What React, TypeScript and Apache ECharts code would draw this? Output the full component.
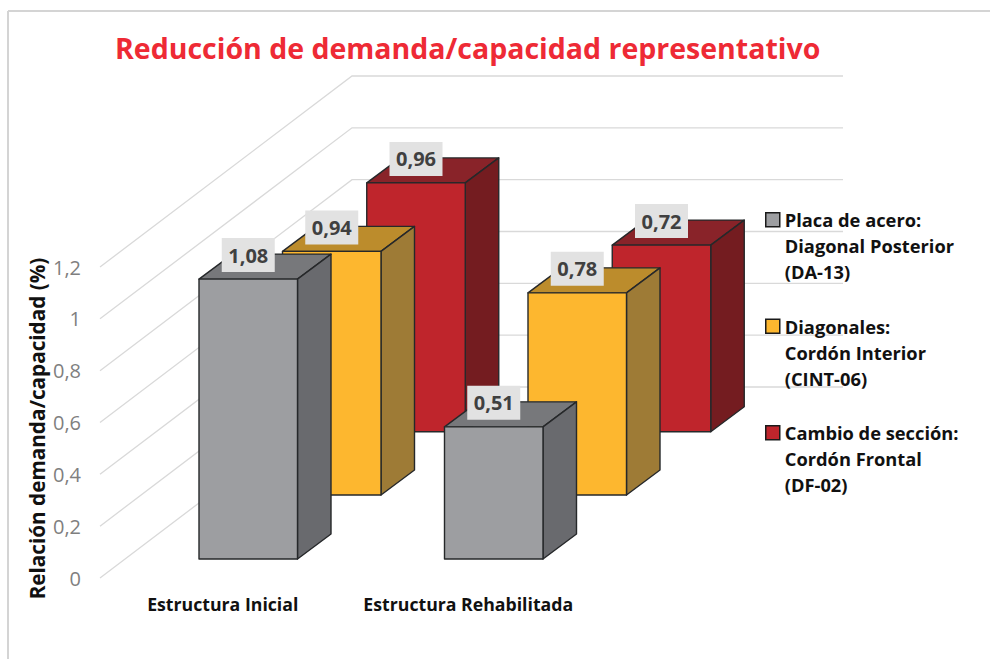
import React, { useEffect, useRef } from "react";
import * as echarts from "echarts";

const categories = ["Estructura Inicial", "Estructura Rehabilitada"];
const titleText = "Reducción de demanda/capacidad representativo";
const yAxisTitle = "Relación demanda/capacidad (%)";
const seriesNames = [
  "Placa de acero:\nDiagonal Posterior\n(DA-13)",
  "Diagonales:\nCordón Interior\n(CINT-06)",
  "Cambio de sección:\nCordón Frontal\n(DF-02)",
];
const placaValues = [1.08, 0.51];
const diagonalesValues = [0.94, 0.78];
const cambioValues = [0.96, 0.72];
const gridTicks = [0, 0.2, 0.4, 0.6, 0.8, 1, 1.2];

const FONT = "'Open Sans', sans-serif";
const WALL_DX = 252;
const WALL_DY = -191;
const BAR_W = 98.5;
const SIDE_DX = 33.5;
const SIDE_DY = -25;
const LEGEND_ICON = "path://M0 6H14V20H0Z M0 0L0 0 M14 78L14 78";

const comma = (v: number) => String(v).replace(".", ",");

type Palette = { front: string; top: string; side: string };
const gray: Palette = { front: "#9D9EA1", top: "#77787B", side: "#696A6E" };
const amber: Palette = { front: "#FDB72F", top: "#BC8C2C", side: "#9E7B36" };
const red: Palette = { front: "#BF252C", top: "#892329", side: "#741C20" };

function barSeries(name: string, values: number[], p: Palette, dx: number, dy: number) {
  return {
    type: "custom",
    name,
    coordinateSystem: "cartesian2d",
    itemStyle: { color: p.front },
    data: values.map((v, i) => [i, v]),
    encode: { x: 0, y: 1 },
    renderItem: (_: any, api: any) => {
      const cat = api.value(0);
      const val = api.value(1);
      const base = api.coord([cat, 0]);
      const head = api.coord([cat, val]);
      const cx = base[0] + dx;
      const l = cx - BAR_W / 2;
      const r = cx + BAR_W / 2;
      const b = base[1] + dy;
      const t = head[1] + dy;
      const edge = { stroke: "#26282A", lineWidth: 1.4, lineJoin: "round" };
      return {
        type: "group",
        children: [
          {
            type: "polygon",
            shape: { points: [[l, t], [r, t], [r + SIDE_DX, t + SIDE_DY], [l + SIDE_DX, t + SIDE_DY]] },
            style: { fill: p.top, ...edge },
          },
          {
            type: "polygon",
            shape: { points: [[r, t], [r + SIDE_DX, t + SIDE_DY], [r + SIDE_DX, b + SIDE_DY], [r, b]] },
            style: { fill: p.side, ...edge },
          },
          {
            type: "rect",
            shape: { x: l, y: t, width: BAR_W, height: b - t },
            style: { fill: p.front, ...edge },
          },
          {
            type: "rect",
            shape: { x: cx - 26.5, y: t - 41, width: 53, height: 34 },
            style: { fill: "#E2E2E2" },
          },
          {
            type: "text",
            x: cx,
            y: t - 24,
            style: {
              text: comma(val),
              align: "center",
              verticalAlign: "middle",
              fill: "#404040",
              font: `bold 20px ${FONT}`,
            },
          },
        ],
      };
    },
  };
}

export default function App() {
  const ref = useRef<HTMLDivElement>(null);

  useEffect(() => {
    if (!ref.current) return;
    const chart = echarts.init(ref.current, undefined, { renderer: "svg" });
    chart.setOption({
      animation: false,
      backgroundColor: "#FFFFFF",
      title: {
        text: titleText,
        left: 115,
        top: 28,
        textStyle: { color: "#EE2A35", fontFamily: FONT, fontWeight: "bold", fontSize: 28.5, lineHeight: 40 },
        padding: 0,
      },
      grid: { left: 100, top: 267, width: 491, height: 311 },
      xAxis: {
        type: "category",
        data: categories,
        axisLine: { show: false },
        axisTick: { show: false },
        axisLabel: { color: "#111111", fontFamily: FONT, fontWeight: "bold", fontSize: 17.7, margin: 17, interval: 0 },
      },
      yAxis: {
        type: "value",
        min: 0,
        max: 1.2,
        interval: 0.2,
        name: yAxisTitle,
        nameLocation: "middle",
        nameGap: 53,
        nameTextStyle: { color: "#111111", fontFamily: FONT, fontWeight: "bold", fontSize: 20.7, padding: [0, 0, 0, -12] },
        axisLine: { show: false },
        axisTick: { show: false },
        splitLine: { show: false },
        axisLabel: { color: "#7F7F7F", fontFamily: FONT, fontSize: 20, margin: 19, formatter: (v: number) => comma(v) },
      },
      legend: {
        left: 765,
        top: 206,
        orient: "vertical",
        selectedMode: false,
        padding: 0,
        itemWidth: 14,
        itemHeight: 78,
        itemGap: 27,
        textStyle: { color: "#111111", fontFamily: FONT, fontWeight: "bold", fontSize: 18.3, lineHeight: 26 },
        data: [
          { name: seriesNames[0], icon: LEGEND_ICON, itemStyle: { color: gray.front, borderColor: "#1A1A1A", borderWidth: 1.5 } },
          { name: seriesNames[1], icon: LEGEND_ICON, itemStyle: { color: amber.front, borderColor: "#1A1A1A", borderWidth: 1.5 } },
          { name: seriesNames[2], icon: LEGEND_ICON, itemStyle: { color: red.front, borderColor: "#1A1A1A", borderWidth: 1.5 } },
        ],
      },
      graphic: [
        { type: "line", silent: true, shape: { x1: 8, y1: 11, x2: 990, y2: 11 }, style: { stroke: "#D4D4D4", lineWidth: 2 } },
        { type: "line", silent: true, shape: { x1: 8, y1: 11, x2: 8, y2: 659 }, style: { stroke: "#D4D4D4", lineWidth: 2 } },
      ],
      series: [
        {
          type: "custom",
          name: "grid",
          silent: true,
          coordinateSystem: "cartesian2d",
          data: gridTicks.map((v) => [0, v]),
          encode: { x: 0, y: 1 },
          renderItem: (params: any, api: any) => {
            const y = api.coord([0, api.value(1)])[1];
            const x0 = params.coordSys.x;
            const x1 = x0 + params.coordSys.width;
            return {
              type: "polyline",
              shape: { points: [[x0, y], [x0 + WALL_DX, y + WALL_DY], [x1 + WALL_DX, y + WALL_DY]] },
              style: { stroke: "#D9D9D9", lineWidth: 1.3, fill: "none" },
            };
          },
        },
        barSeries(seriesNames[2], cambioValues, red, 193.25, -146.3),
        barSeries(seriesNames[1], diagonalesValues, amber, 109, -83),
        barSeries(seriesNames[0], placaValues, gray, 25.5, -19),
      ],
    });
    return () => chart.dispose();
  }, []);

  return <div ref={ref} style={{ position: "fixed", left: 0, top: 0, width: 990, height: 659 }} />;
}
